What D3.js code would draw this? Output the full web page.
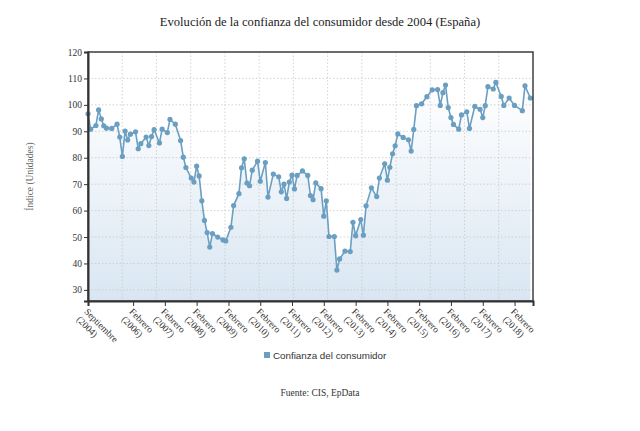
<!DOCTYPE html>
<html>
<head>
<meta charset="utf-8">
<script src="https://cdn.jsdelivr.net/npm/d3@7"></script>
<style>
  body { margin: 0; background: #fff; }
  .serif { font-family: 'Liberation Serif', 'Times New Roman', serif; }
  .grid line { stroke: #c8c8c8; stroke-dasharray: 1.5 2; stroke-width: 0.8; }
</style>
</head>
<body>
<script>

// Data
const dates = [
    '2004-09', '2004-10', '2004-12', '2005-01', '2005-02', '2005-03', '2005-04', '2005-06', '2005-08', '2005-09',
    '2005-10', '2005-11', '2005-12', '2006-01', '2006-03', '2006-04', '2006-05', '2006-07', '2006-08', '2006-09',
    '2006-10', '2006-12', '2007-01', '2007-03', '2007-04', '2007-06', '2007-08', '2007-09', '2007-10', '2007-12',
    '2008-01', '2008-02', '2008-03', '2008-04', '2008-05', '2008-06', '2008-07', '2008-08', '2008-10', '2008-12',
    '2009-01', '2009-03', '2009-04', '2009-06', '2009-07', '2009-08', '2009-09', '2009-10', '2009-11', '2010-01',
    '2010-02', '2010-04', '2010-05', '2010-07', '2010-09', '2010-10', '2010-11', '2010-12', '2011-01', '2011-02',
    '2011-03', '2011-04', '2011-06', '2011-08', '2011-09', '2011-10', '2011-11', '2012-01', '2012-02', '2012-03',
    '2012-04', '2012-06', '2012-07', '2012-08', '2012-10', '2012-12', '2013-01', '2013-02', '2013-04', '2013-05',
    '2013-06', '2013-08', '2013-10', '2013-11', '2014-01', '2014-02', '2014-03', '2014-04', '2014-05', '2014-06',
    '2014-08', '2014-10', '2014-11', '2014-12', '2015-01', '2015-03', '2015-05', '2015-07', '2015-09', '2015-10',
    '2015-11', '2015-12', '2016-01', '2016-02', '2016-03', '2016-05', '2016-06', '2016-08', '2016-09', '2016-11',
    '2017-01', '2017-02', '2017-03', '2017-04', '2017-06', '2017-07', '2017-09', '2017-10', '2017-12', '2018-02',
    '2018-05', '2018-06', '2018-08'
]

const values = [
    96.6, 90.8, 92.2, 98.1, 94.7, 92.1, 91.2, 91.1, 92.7, 87.8,
    80.5, 90.1, 86.7, 88.9, 89.8, 83.4, 85.3, 87.8, 84.6, 88.0,
    90.6, 85.6, 90.8, 89.5, 94.5, 92.7, 86.5, 80.2, 76.3, 72.3,
    70.8, 76.8, 73.1, 63.7, 56.3, 51.7, 46.2, 51.3, 50.0, 48.9,
    48.5, 53.7, 61.9, 66.4, 76.2, 79.6, 70.4, 69.4, 75.3, 78.7,
    71.1, 78.2, 65.1, 73.8, 72.8, 67.1, 70.0, 64.6, 70.8, 73.4,
    68.2, 73.3, 75.0, 73.3, 65.7, 64.1, 70.5, 68.3, 57.9, 63.7,
    50.2, 50.2, 37.5, 41.7, 44.7, 44.5, 55.6, 50.5, 56.6, 50.7,
    61.8, 68.6, 65.3, 72.3, 77.7, 71.5, 76.4, 81.5, 84.5, 89.0,
    87.7, 86.8, 82.5, 90.7, 99.7, 100.4, 103.1, 105.7, 105.8, 99.8,
    104.6, 107.5, 99.0, 95.2, 92.6, 90.8, 96.2, 97.4, 91.1, 99.4,
    98.3, 95.2, 99.7, 106.9, 106.0, 108.5, 103.2, 99.8, 102.6, 99.8,
    97.8, 107.2, 102.6
]

const tickDates = ['2004-09', '2006-02', '2007-02', '2008-02', '2009-02', '2010-02', '2011-02',
    '2012-02', '2013-02', '2014-02', '2015-02', '2016-02', '2017-02', '2018-02']
const tickMonths = ['Septiembre', 'Febrero', 'Febrero', 'Febrero', 'Febrero', 'Febrero', 'Febrero',
    'Febrero', 'Febrero', 'Febrero', 'Febrero', 'Febrero', 'Febrero', 'Febrero']
const tickYears = ['(2004)', '(2006)', '(2007)', '(2008)', '(2009)', '(2010)', '(2011)',
    '(2012)', '(2013)', '(2014)', '(2015)', '(2016)', '(2017)', '(2018)']

const yTicks = [30, 40, 50, 60, 70, 80, 90, 100, 110, 120]

const renderChart = () => {

    const w = 640
    const h = 431
    const margin = { top: 52, right: 107, bottom: 130, left: 88 }
    const lineColor = '#6b9fc1'

    const parseMonth = d3.timeParse('%Y-%m')
    const data = dates.map((d, i) => ({ date: parseMonth(d), value: values[i] }))

    const svg = d3.select('body')
        .append('svg')
            .attr('width', w)
            .attr('height', h)

    // Title
    svg.append('text')
        .attr('class', 'serif')
        .attr('x', 320)
        .attr('y', 26)
        .attr('text-anchor', 'middle')
        .style('font-size', '12.6px')
        .style('fill', '#222')
        .text('Evolución de la confianza del consumidor desde 2004 (España)')

    // Scales
    const xScale = d3.scaleTime()
        .domain([parseMonth('2004-09'), parseMonth('2018-09')])
        .range([margin.left, w - margin.right])

    const yScale = d3.scaleLinear()
        .domain([25.8, 120])
        .range([h - margin.bottom, margin.top])

    // Gradient for the area
    const defs = svg.append('defs')
    const grad = defs.append('linearGradient')
        .attr('id', 'areaFill')
        .attr('x1', 0).attr('y1', 0)
        .attr('x2', 0).attr('y2', 1)
    grad.append('stop').attr('offset', '0%').attr('stop-color', '#ffffff')
    grad.append('stop').attr('offset', '100%').attr('stop-color', '#d9e6f2')

    svg.append('path')
        .datum(data)
        .attr('fill', 'url(#areaFill)')
        .attr('d', d3.area()
            .x(d => xScale(d.date))
            .y0(yScale(25.8))
            .y1(d => yScale(d.value)))

    // Grid lines
    const [t0, t1] = xScale.domain().map(Number)
    const vGrid = d3.range(1, 13).map(i => new Date(t0 + (t1 - t0) * i / 13))

    const grid = svg.append('g').attr('class', 'grid')
    grid.selectAll('.hgrid')
        .data(yTicks)
        .enter()
        .append('line')
            .attr('x1', margin.left)
            .attr('x2', w - margin.right)
            .attr('y1', d => yScale(d))
            .attr('y2', d => yScale(d))
    grid.selectAll('.vgrid')
        .data(vGrid)
        .enter()
        .append('line')
            .attr('x1', d => xScale(d))
            .attr('x2', d => xScale(d))
            .attr('y1', margin.top)
            .attr('y2', h - margin.bottom)

    // Line + markers
    svg.append('path')
        .datum(data)
        .attr('fill', 'none')
        .attr('stroke', lineColor)
        .attr('stroke-width', 1.6)
        .attr('d', d3.line()
            .x(d => xScale(d.date))
            .y(d => yScale(d.value)))

    svg.selectAll('.dot')
        .data(data)
        .enter()
        .append('circle')
            .attr('class', 'dot')
            .attr('cx', d => xScale(d.date))
            .attr('cy', d => yScale(d.value))
            .attr('r', 2.6)
            .attr('fill', lineColor)

    // Frame
    svg.append('rect')
        .attr('x', margin.left)
        .attr('y', margin.top)
        .attr('width', w - margin.left - margin.right)
        .attr('height', h - margin.top - margin.bottom)
        .attr('fill', 'none')
        .attr('stroke', '#333')
        .attr('stroke-width', 1.4)

    // Y axis
    const yAxis = d3.axisLeft(yScale)
        .tickValues(yTicks)
        .tickSize(4)
        .tickPadding(2)

    const yG = svg.append('g')
        .attr('transform', `translate(${margin.left}, 0)`)
        .call(yAxis)
    yG.select('.domain').attr('stroke', '#333').attr('stroke-width', 2)
    yG.selectAll('.tick line').attr('stroke', '#333')
    yG.selectAll('.tick text')
        .attr('class', 'serif')
        .style('font-size', '9.5px')
        .style('fill', '#333')

    // X axis
    const xAxis = d3.axisBottom(xScale)
        .tickValues(tickDates.map(parseMonth))
        .tickSize(5)
        .tickFormat('')

    const xG = svg.append('g')
        .attr('transform', `translate(0, ${h - margin.bottom})`)
        .call(xAxis)
    xG.select('.domain').attr('stroke', '#333').attr('stroke-width', 2)
    xG.selectAll('.tick line').attr('stroke', '#333')

    const labels = svg.selectAll('.xlabel')
        .data(tickDates)
        .enter()
        .append('text')
            .attr('class', 'serif')
            .attr('transform', d => `translate(${xScale(parseMonth(d)) - 3}, ${h - margin.bottom + 10}) rotate(45)`)
            .style('font-size', '9.5px')
            .style('fill', '#333')
    labels.append('tspan')
        .attr('x', 0)
        .attr('dy', '0.2em')
        .text((d, i) => tickMonths[i])
    labels.append('tspan')
        .attr('x', 0)
        .attr('dy', '1.15em')
        .text((d, i) => tickYears[i])

    // Y label
    svg.append('text')
        .attr('class', 'serif')
        .attr('x', 33)
        .attr('y', (margin.top + h - margin.bottom) / 2)
        .attr('text-anchor', 'middle')
        .attr('transform', `rotate(-90, 33, ${(margin.top + h - margin.bottom) / 2})`)
        .style('font-size', '9.5px')
        .style('fill', '#666')
        .text('Índice (Unidades)')

    // Legend
    const legend = svg.append('g')
        .attr('transform', 'translate(264, 352)')
    legend.append('rect')
        .attr('width', 6)
        .attr('height', 6)
        .attr('fill', lineColor)
    legend.append('text')
        .attr('x', 9)
        .attr('y', 6.5)
        .style('font-family', "'Liberation Sans', Arial, sans-serif")
        .style('font-size', '9.8px')
        .style('fill', '#333')
        .text('Confianza del consumidor')

    // Source
    svg.append('text')
        .attr('class', 'serif')
        .attr('x', 320)
        .attr('y', 396)
        .attr('text-anchor', 'middle')
        .style('font-size', '9.5px')
        .style('fill', '#333')
        .text('Fuente: CIS, EpData')
}

renderChart()
</script>
</body>
</html>
